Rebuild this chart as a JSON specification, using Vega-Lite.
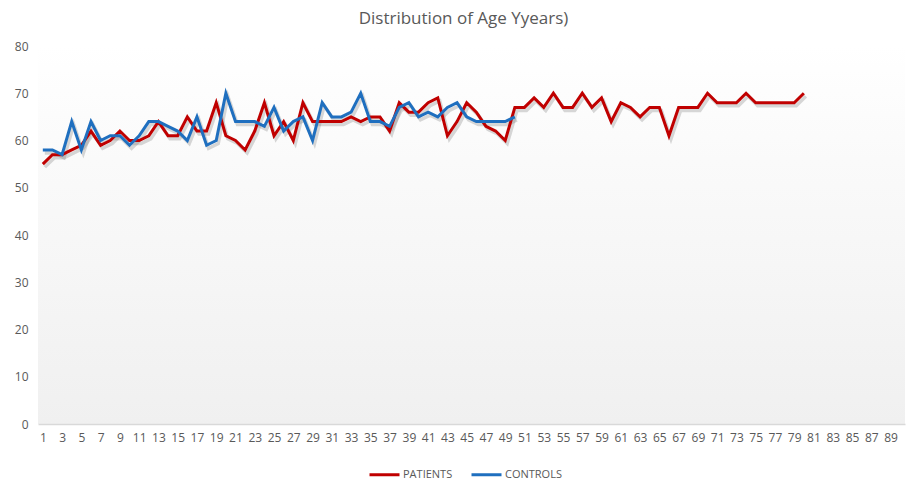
{
  "$schema": "https://vega.github.io/schema/vega-lite/v6.json",
  "autosize": "none",
  "width": 867,
  "height": 378,
  "padding": {"left": 38, "top": 46, "right": 2, "bottom": 59},
  "background": "white",
  "title": {
    "text": "Distribution  of Age Yyears)",
    "fontSize": 17,
    "font": "Open Sans",
    "fontWeight": "normal",
    "color": "#595959",
    "offset": 12,
    "dx": -8
  },
  "config": {
    "view": {
      "stroke": null,
      "fill": {"gradient": "linear", "x1": 0, "y1": 0, "x2": 0, "y2": 1, "stops": [{"offset": 0, "color": "#ffffff"}, {"offset": 0.3, "color": "#fafafa"}, {"offset": 1, "color": "#f0f0f0"}]}
    },
    "axis": {"labelFont": "Open Sans", "labelColor": "#595959", "labelFontSize": 12, "grid": false, "ticks": false, "title": null}
  },
  "data": {
    "values": [
      {"n":1,"group":"PATIENTS","age":55},{"n":2,"group":"PATIENTS","age":57},{"n":3,"group":"PATIENTS","age":57},{"n":4,"group":"PATIENTS","age":58},{"n":5,"group":"PATIENTS","age":59},
      {"n":6,"group":"PATIENTS","age":62},{"n":7,"group":"PATIENTS","age":59},{"n":8,"group":"PATIENTS","age":60},{"n":9,"group":"PATIENTS","age":62},{"n":10,"group":"PATIENTS","age":60},
      {"n":11,"group":"PATIENTS","age":60},{"n":12,"group":"PATIENTS","age":61},{"n":13,"group":"PATIENTS","age":64},{"n":14,"group":"PATIENTS","age":61},{"n":15,"group":"PATIENTS","age":61},
      {"n":16,"group":"PATIENTS","age":65},{"n":17,"group":"PATIENTS","age":62},{"n":18,"group":"PATIENTS","age":62},{"n":19,"group":"PATIENTS","age":68},{"n":20,"group":"PATIENTS","age":61},
      {"n":21,"group":"PATIENTS","age":60},{"n":22,"group":"PATIENTS","age":58},{"n":23,"group":"PATIENTS","age":62},{"n":24,"group":"PATIENTS","age":68},{"n":25,"group":"PATIENTS","age":61},
      {"n":26,"group":"PATIENTS","age":64},{"n":27,"group":"PATIENTS","age":60},{"n":28,"group":"PATIENTS","age":68},{"n":29,"group":"PATIENTS","age":64},{"n":30,"group":"PATIENTS","age":64},
      {"n":31,"group":"PATIENTS","age":64},{"n":32,"group":"PATIENTS","age":64},{"n":33,"group":"PATIENTS","age":65},{"n":34,"group":"PATIENTS","age":64},{"n":35,"group":"PATIENTS","age":65},
      {"n":36,"group":"PATIENTS","age":65},{"n":37,"group":"PATIENTS","age":62},{"n":38,"group":"PATIENTS","age":68},{"n":39,"group":"PATIENTS","age":66},{"n":40,"group":"PATIENTS","age":66},
      {"n":41,"group":"PATIENTS","age":68},{"n":42,"group":"PATIENTS","age":69},{"n":43,"group":"PATIENTS","age":61},{"n":44,"group":"PATIENTS","age":64},{"n":45,"group":"PATIENTS","age":68},
      {"n":46,"group":"PATIENTS","age":66},{"n":47,"group":"PATIENTS","age":63},{"n":48,"group":"PATIENTS","age":62},{"n":49,"group":"PATIENTS","age":60},{"n":50,"group":"PATIENTS","age":67},
      {"n":51,"group":"PATIENTS","age":67},{"n":52,"group":"PATIENTS","age":69},{"n":53,"group":"PATIENTS","age":67},{"n":54,"group":"PATIENTS","age":70},{"n":55,"group":"PATIENTS","age":67},
      {"n":56,"group":"PATIENTS","age":67},{"n":57,"group":"PATIENTS","age":70},{"n":58,"group":"PATIENTS","age":67},{"n":59,"group":"PATIENTS","age":69},{"n":60,"group":"PATIENTS","age":64},
      {"n":61,"group":"PATIENTS","age":68},{"n":62,"group":"PATIENTS","age":67},{"n":63,"group":"PATIENTS","age":65},{"n":64,"group":"PATIENTS","age":67},{"n":65,"group":"PATIENTS","age":67},
      {"n":66,"group":"PATIENTS","age":61},{"n":67,"group":"PATIENTS","age":67},{"n":68,"group":"PATIENTS","age":67},{"n":69,"group":"PATIENTS","age":67},{"n":70,"group":"PATIENTS","age":70},
      {"n":71,"group":"PATIENTS","age":68},{"n":72,"group":"PATIENTS","age":68},{"n":73,"group":"PATIENTS","age":68},{"n":74,"group":"PATIENTS","age":70},{"n":75,"group":"PATIENTS","age":68},
      {"n":76,"group":"PATIENTS","age":68},{"n":77,"group":"PATIENTS","age":68},{"n":78,"group":"PATIENTS","age":68},{"n":79,"group":"PATIENTS","age":68},{"n":80,"group":"PATIENTS","age":70},
      {"n":1,"group":"CONTROLS","age":58},{"n":2,"group":"CONTROLS","age":58},{"n":3,"group":"CONTROLS","age":57},{"n":4,"group":"CONTROLS","age":64},{"n":5,"group":"CONTROLS","age":58},
      {"n":6,"group":"CONTROLS","age":64},{"n":7,"group":"CONTROLS","age":60},{"n":8,"group":"CONTROLS","age":61},{"n":9,"group":"CONTROLS","age":61},{"n":10,"group":"CONTROLS","age":59},
      {"n":11,"group":"CONTROLS","age":61},{"n":12,"group":"CONTROLS","age":64},{"n":13,"group":"CONTROLS","age":64},{"n":14,"group":"CONTROLS","age":63},{"n":15,"group":"CONTROLS","age":62},
      {"n":16,"group":"CONTROLS","age":60},{"n":17,"group":"CONTROLS","age":65},{"n":18,"group":"CONTROLS","age":59},{"n":19,"group":"CONTROLS","age":60},{"n":20,"group":"CONTROLS","age":70},
      {"n":21,"group":"CONTROLS","age":64},{"n":22,"group":"CONTROLS","age":64},{"n":23,"group":"CONTROLS","age":64},{"n":24,"group":"CONTROLS","age":63},{"n":25,"group":"CONTROLS","age":67},
      {"n":26,"group":"CONTROLS","age":62},{"n":27,"group":"CONTROLS","age":64},{"n":28,"group":"CONTROLS","age":65},{"n":29,"group":"CONTROLS","age":60},{"n":30,"group":"CONTROLS","age":68},
      {"n":31,"group":"CONTROLS","age":65},{"n":32,"group":"CONTROLS","age":65},{"n":33,"group":"CONTROLS","age":66},{"n":34,"group":"CONTROLS","age":70},{"n":35,"group":"CONTROLS","age":64},
      {"n":36,"group":"CONTROLS","age":64},{"n":37,"group":"CONTROLS","age":63},{"n":38,"group":"CONTROLS","age":67},{"n":39,"group":"CONTROLS","age":68},{"n":40,"group":"CONTROLS","age":65},
      {"n":41,"group":"CONTROLS","age":66},{"n":42,"group":"CONTROLS","age":65},{"n":43,"group":"CONTROLS","age":67},{"n":44,"group":"CONTROLS","age":68},{"n":45,"group":"CONTROLS","age":65},
      {"n":46,"group":"CONTROLS","age":64},{"n":47,"group":"CONTROLS","age":64},{"n":48,"group":"CONTROLS","age":64},{"n":49,"group":"CONTROLS","age":64},{"n":50,"group":"CONTROLS","age":65}
    ]
  },
  "encoding": {
    "x": {
      "field": "n",
      "type": "quantitative",
      "scale": {"domain": [0.5, 90.5], "nice": false, "zero": false},
      "axis": {
        "values": [1,3,5,7,9,11,13,15,17,19,21,23,25,27,29,31,33,35,37,39,41,43,45,47,49,51,53,55,57,59,61,63,65,67,69,71,73,75,77,79,81,83,85,87,89],
        "domain": true,
        "domainColor": "#d9d9d9",
        "domainWidth": 1.5,
        "labelPadding": 8,
        "labelFlush": false
      }
    },
    "y": {
      "field": "age",
      "type": "quantitative",
      "scale": {"domain": [0, 80], "nice": false},
      "axis": {"values": [0,10,20,30,40,50,60,70,80], "domain": false, "labelPadding": 10}
    }
  },
  "layer": [
    {
      "mark": {"type": "line", "strokeWidth": 3.5, "color": "#7f7f7f", "opacity": 0.3, "xOffset": 2, "yOffset": 3},
      "encoding": {"detail": {"field": "group"}}
    },
    {
      "mark": {"type": "line", "strokeWidth": 3},
      "encoding": {
        "color": {
          "field": "group",
          "type": "nominal",
          "scale": {"domain": ["PATIENTS", "CONTROLS"], "range": ["#c00000", "#1f6fbf"]},
          "legend": {
            "title": null,
            "orient": "none",
            "direction": "horizontal",
            "legendX": 330,
            "legendY": 412,
            "symbolType": "stroke",
            "symbolSize": 900,
            "symbolStrokeWidth": 3,
            "labelFont": "Open Sans",
            "labelFontSize": 11,
            "labelColor": "#595959",
            "labelOffset": 2,
            "columnPadding": 12
          }
        }
      }
    }
  ]
}
